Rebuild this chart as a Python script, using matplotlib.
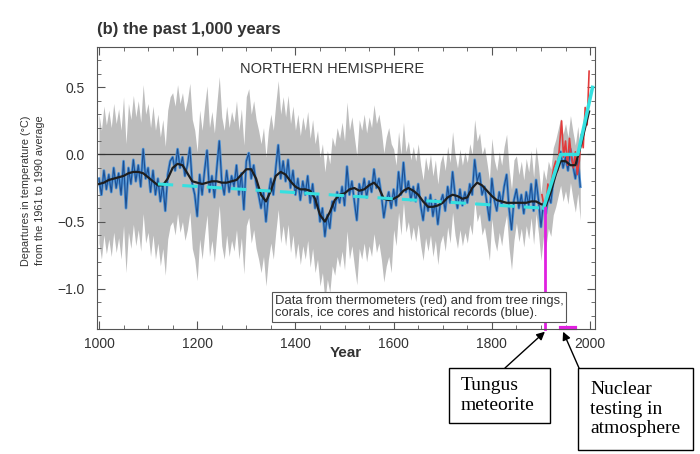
import numpy as np
import matplotlib
matplotlib.use("Agg")
import matplotlib.pyplot as plt
from matplotlib.patches import Rectangle
from matplotlib.ticker import MultipleLocator

plt.rcParams['font.family'] = ['Liberation Sans', 'DejaVu Sans']

# proxy reconstruction (blue), every 5 years 1000..1980
proxy_years = np.arange(1000, 1981, 5)
proxy_vals = [
    -0.18, -0.30, -0.12, -0.26, -0.15, -0.28, -0.10, -0.25, -0.14, -0.30,
    -0.05, -0.40, -0.10, -0.22, -0.04, -0.20, -0.08, -0.24, 0.04, -0.18,
    -0.10, -0.28, -0.12, -0.30, -0.18, -0.35, -0.22, -0.42, -0.15, -0.05,
    -0.02, -0.12, 0.04, -0.10, -0.02, -0.16, -0.08, 0.05, -0.22, -0.30,
    -0.46, -0.15, -0.30, -0.12, 0.03, -0.28, -0.16, -0.32, -0.10, 0.10,
    -0.20, -0.30, -0.12, -0.28, -0.16, -0.24, -0.08, -0.30, -0.14, -0.41,
    -0.05, 0.01, -0.18, -0.08, -0.22, -0.30, -0.40, -0.28, -0.50, -0.30,
    -0.18, -0.30, -0.10, 0.07, -0.18, -0.05, -0.20, -0.04, -0.25, -0.12,
    -0.30, -0.18, -0.34, -0.20, -0.30, -0.16, -0.36, -0.22, -0.40, -0.30,
    -0.50, -0.40, -0.61, -0.45, -0.55, -0.35, -0.42, -0.28, -0.36, -0.24,
    -0.38, -0.09, -0.30, -0.20, -0.35, -0.49, -0.22, -0.30, -0.18, -0.32,
    -0.20, -0.28, -0.11, -0.25, -0.18, -0.30, -0.47, -0.35, -0.28, -0.40,
    -0.26, -0.38, -0.13, -0.30, -0.06, -0.28, -0.20, -0.34, -0.24, -0.35,
    -0.22, -0.38, -0.49, -0.32, -0.42, -0.30, -0.46, -0.34, -0.52, -0.36,
    -0.30, -0.42, -0.24, -0.36, -0.13, -0.30, -0.40, -0.26, -0.38, -0.28,
    -0.36, -0.22, -0.30, -0.04, -0.20, -0.14, -0.30, -0.24, -0.36, -0.49,
    -0.18, -0.34, -0.42, -0.28, -0.38, -0.24, -0.15, -0.40, -0.56, -0.34,
    -0.26, -0.40, -0.30, -0.44, -0.28, -0.38, -0.22, -0.42, -0.19, -0.34,
    -0.54, -0.36, -0.44, -0.30, -0.36, -0.20, -0.14, -0.06, 0.02, -0.10,
    -0.02, -0.12, 0.04, -0.08, -0.18, -0.04, -0.24,
]

# uncertainty half width (grey band) by period start year
band_start = [1000, 1600, 1850]
band_half = [0.48, 0.30, 0.25]

# 40-year smoothed curve (black)
smooth_years = list(range(1000, 1991, 10)) + [1998]
smooth_vals = [
    -0.22, -0.21, -0.19, -0.18, -0.17, -0.16, -0.14, -0.13, -0.13, -0.14,
    -0.17, -0.20, -0.23, -0.23, -0.18, -0.10, -0.07, -0.08, -0.14, -0.20,
    -0.21, -0.22, -0.21, -0.20, -0.20, -0.21, -0.21, -0.20, -0.19, -0.15,
    -0.11, -0.11, -0.18, -0.30, -0.35, -0.27, -0.16, -0.13, -0.15, -0.20,
    -0.24, -0.26, -0.26, -0.27, -0.33, -0.45, -0.50, -0.43, -0.34, -0.30,
    -0.29, -0.26, -0.25, -0.27, -0.26, -0.23, -0.21, -0.25, -0.33, -0.34,
    -0.33, -0.31, -0.27, -0.25, -0.27, -0.30, -0.35, -0.39, -0.39, -0.38,
    -0.36, -0.32, -0.30, -0.31, -0.33, -0.32, -0.25, -0.21, -0.23, -0.27,
    -0.31, -0.34, -0.35, -0.36, -0.36, -0.36, -0.36, -0.36, -0.35, -0.35,
    -0.37, -0.38, -0.28, -0.15, -0.05, -0.05, -0.08, -0.08, 0.05, 0.20,
    0.32,
]

# instrumental record (red)
thermo_years = np.arange(1902, 1999, 4)
thermo_vals = [-0.30, -0.38, -0.40, -0.22, -0.30, -0.18, -0.10, -0.05, -0.12,
               0.08, 0.25, -0.02, 0.10, -0.08, 0.12, -0.02, -0.10, 0.02,
               -0.15, -0.05, 0.15, 0.05, 0.35, 0.22, 0.62]

# cyan overlay
trend_dash_x = [1120, 1905]
trend_dash_y = [-0.22, -0.40]
trend_solid_x = [1905, 1940, 1975, 2005]
trend_solid_y = [-0.40, 0.0, 0.0, 0.5]

tungus_year = 1908
nuclear_years = [1940, 1970]

proxy = np.array(proxy_vals)
half = np.array(band_half)[np.searchsorted(band_start, proxy_years, side='right') - 1]

fig = plt.figure(figsize=(7, 4.54), dpi=100)
ax = fig.add_axes([0.1386, 0.2753, 0.7114, 0.6211])

ax.fill_between(proxy_years, proxy - half, proxy + half, color='#bdbdbd', lw=0)
ax.axhline(0, color='#333333', lw=0.9)
ax.plot(proxy_years, proxy, color='#4f93d6', lw=2.0)
ax.plot(proxy_years, proxy, color='#1d4f91', lw=0.8)
ax.plot(thermo_years, thermo_vals, color='#e23b3b', lw=1.2)
ax.plot(smooth_years, smooth_vals, color='#1e1e1e', lw=1.6)
ax.plot(trend_dash_x, trend_dash_y, color='#35e0e0', lw=2.2, dashes=(5, 3))
ax.plot(trend_solid_x, trend_solid_y, color='#35e0e0', lw=2.5)

ax.plot([tungus_year, tungus_year], [trend_dash_y[1], -1.3], color='#e020e0', lw=2, clip_on=False)
ax.plot(nuclear_years, [-1.29, -1.29], color='#e020e0', lw=3, clip_on=False)

ax.set_xlim(996, 2010)
ax.set_ylim(-1.3, 0.8)
ax.set_xticks([1000, 1200, 1400, 1600, 1800, 2000])
ax.set_yticks([-1.0, -0.5, 0.0, 0.5])
ax.set_yticklabels(['\u22121.0', '\u22120.5', '0.0', '0.5'])
ax.xaxis.set_minor_locator(MultipleLocator(50))
ax.yaxis.set_minor_locator(MultipleLocator(0.1))
ax.tick_params(which='both', direction='in', top=True, right=True, colors='#555555',
               labelcolor='#333333', labelsize=10)
ax.tick_params(axis='y', pad=9)
ax.tick_params(axis='x', pad=6)
ax.tick_params(which='major', length=6, width=0.8)
ax.tick_params(which='minor', length=3, width=0.6)
for s in ax.spines.values():
    s.set_color('#555555')
    s.set_linewidth(0.8)

ax.text(1287, 0.64, 'NORTHERN HEMISPHERE', fontsize=10.5, color='#333333', va='center')
ax.text(1358, -1.135, 'Data from thermometers (red) and from tree rings,\n'
        'corals, ice cores and historical records (blue).',
        fontsize=9.4, color='#333333', va='center', linespacing=1.0,
        bbox=dict(boxstyle='square,pad=0.22', fc='white', ec='#555555', lw=0.8))

fig.text(0.1386, 0.936, '(b) the past 1,000 years', fontsize=12, fontweight='bold',
         color='#333333', va='center')
fig.text(0.494, 0.222, 'Year', fontsize=11, fontweight='bold', color='#333333',
         ha='center', va='center')
fig.text(0.047, 0.58, 'Departures in temperature (\u00b0C)\nfrom the 1961 to 1990 average',
         fontsize=7.8, color='#333333', rotation=90, ha='center', va='center', linespacing=1.45)

# annotation boxes
serif = ['Liberation Serif', 'DejaVu Serif']
W, H = 700.0, 454.0
boxes = [((449, 368, 101, 55), 'Tungus\nmeteorite', (505, 368), (tungus_year, -1.32)),
         ((578, 368, 115, 82), 'Nuclear\ntesting in\natmosphere', (579, 368), (1945, -1.32))]
for (bx, by, bw, bh), label, tail, tip in boxes:
    fig.patches.append(Rectangle((bx / W, 1 - (by + bh) / H), bw / W, bh / H,
                                 transform=fig.transFigure, fc='white', ec='black', lw=1))
    fig.text((bx + 12) / W, 1 - (by + bh / 2) / H, label, family=serif, fontsize=14,
             va='center', ha='left', linespacing=1.22)
    ax.annotate('', xy=tip, xycoords='data', xytext=(tail[0] / W, 1 - tail[1] / H),
                textcoords='figure fraction', annotation_clip=False,
                arrowprops=dict(arrowstyle='-|>', color='black', lw=1, mutation_scale=12,
                                shrinkA=0, shrinkB=0))

fig.savefig('out.png', dpi=100)
